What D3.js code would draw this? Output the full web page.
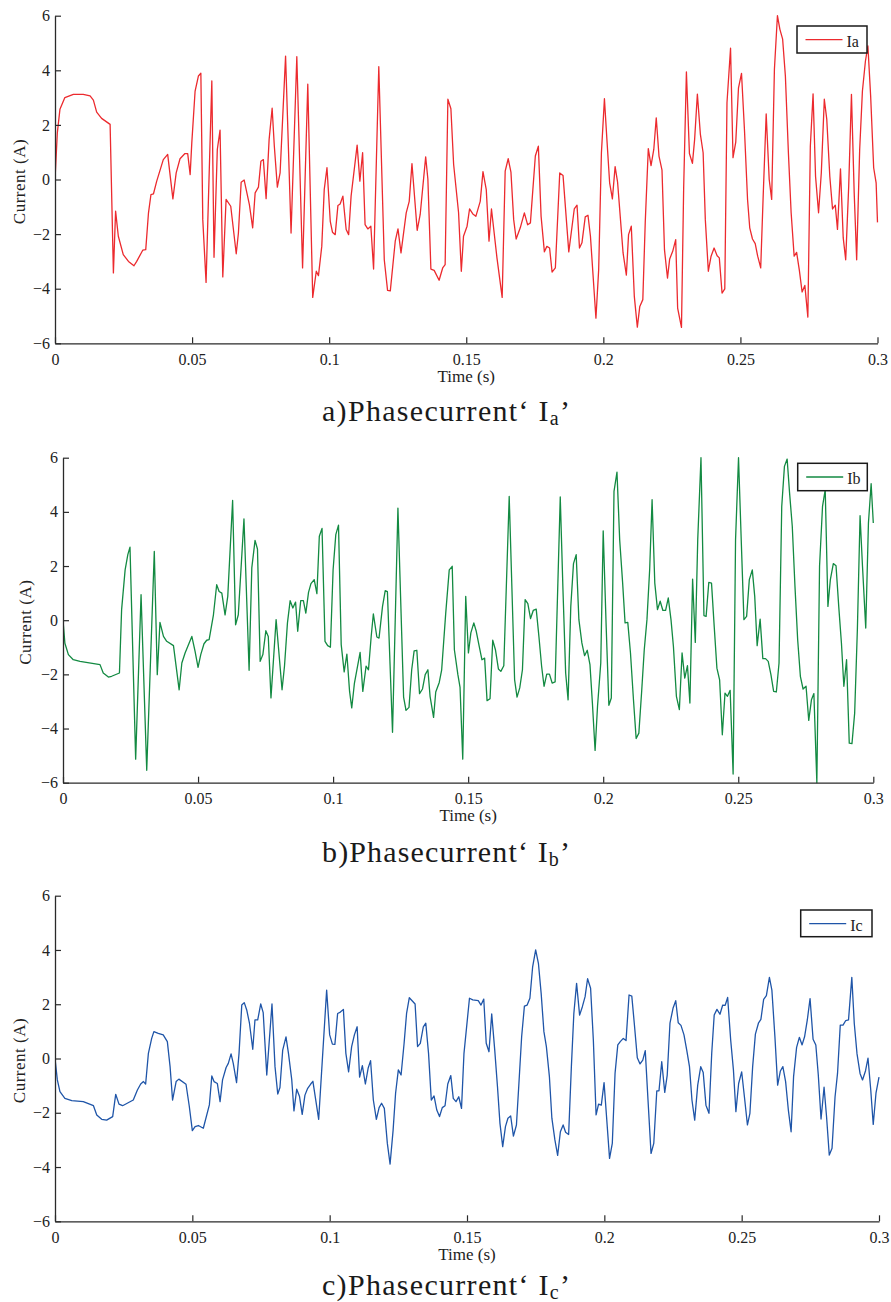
<!DOCTYPE html>
<html><head><meta charset="utf-8">
<script src="https://cdn.jsdelivr.net/npm/d3@7"></script>
<style>
body{margin:0;background:#fff;}
svg{display:block;}
</style></head><body>
<svg id="chart" width="891" height="1302"></svg>
<script>
const timeTicks = [0,0.05,0.1,0.15,0.2,0.25,0.3];
const timeTickLabels = ["0","0.05","0.1","0.15","0.2","0.25","0.3"];
const currentTicks = [-6,-4,-2,0,2,4,6];
const seriesNames = ["Ia","Ib","Ic"];
const titleLetters = ["a","b","c"];

const seriesIa = [[0,0],[0.00085,1.71],[0.0018,2.57],[0.0036,3.0],[0.0067,3.12],[0.0103,3.12],[0.0128,3.06],[0.0140,2.91],[0.0152,2.47],[0.0170,2.24],[0.0201,2.02],[0.0213,-3.42],[0.0221,-1.16],[0.0231,-2.08],[0.0249,-2.75],[0.0268,-3.0],[0.0288,-3.16],[0.0298,-3.0],[0.0320,-2.59],[0.0331,-2.57],[0.0341,-1.22],[0.0350,-0.55],[0.0359,-0.53],[0.0371,-0.06],[0.0395,0.73],[0.0411,0.92],[0.0430,-0.71],[0.0442,0.24],[0.0456,0.76],[0.0474,0.95],[0.0484,0.95],[0.0493,0.18],[0.0499,1.35],[0.0511,3.24],[0.0523,3.79],[0.0532,3.89],[0.0539,-1.47],[0.0551,-3.77],[0.0572,3.61],[0.0580,-2.85],[0.0592,1.1],[0.0602,1.81],[0.0612,-3.57],[0.0624,-0.73],[0.0641,-0.98],[0.0661,-2.72],[0.0669,-1.96],[0.0679,-0.1],[0.0690,-0.02],[0.0709,-0.92],[0.0721,-1.77],[0.0730,-0.49],[0.0742,-0.28],[0.0751,0.67],[0.0760,0.73],[0.0770,-0.7],[0.0781,1.47],[0.0792,2.61],[0.0800,1.22],[0.0811,-0.28],[0.0821,0.24],[0.0841,4.52],[0.0861,-1.96],[0.0882,4.5],[0.0903,-3.24],[0.0922,3.49],[0.0940,-4.32],[0.0953,-3.36],[0.0961,-3.52],[0.0973,-2.45],[0.0982,-0.37],[0.0992,0.43],[0.1004,-1.53],[0.1012,-1.93],[0.1022,-2.02],[0.1032,-0.95],[0.1040,-0.9],[0.1050,-0.61],[0.1062,-1.83],[0.1071,-2.02],[0.1080,-0.61],[0.1102,1.26],[0.1112,-0.06],[0.1122,0.98],[0.1131,-1.65],[0.1141,-1.81],[0.1152,-1.71],[0.1162,-3.28],[0.1181,4.13],[0.1201,-2.94],[0.1213,-4.06],[0.1223,-4.08],[0.1241,-2.26],[0.1251,-1.81],[0.1262,-2.69],[0.1281,-1.22],[0.1292,-0.8],[0.1302,0.58],[0.1321,-1.86],[0.1332,-1.28],[0.1352,0.83],[0.1360,0.02],[0.1371,-3.28],[0.1383,-3.33],[0.1401,-3.69],[0.1414,-3.24],[0.1423,-3.12],[0.1433,2.94],[0.1444,2.59],[0.1454,0.55],[0.1472,-1.22],[0.1482,-3.36],[0.1490,-2.08],[0.1503,-1.71],[0.1512,-1.08],[0.1524,-1.26],[0.1535,-1.35],[0.1551,-0.8],[0.1561,0.29],[0.1573,-0.37],[0.1583,-2.26],[0.1592,-1.08],[0.1612,-2.87],[0.1631,-4.32],[0.1642,0.31],[0.1653,0.76],[0.1663,0.27],[0.1673,-1.47],[0.1682,-2.18],[0.1697,-1.77],[0.1712,-1.22],[0.1724,-1.66],[0.1734,-1.59],[0.1752,0.86],[0.1763,1.22],[0.1773,-1.35],[0.1785,-2.65],[0.1794,-2.45],[0.1804,-2.51],[0.1813,-3.39],[0.1825,-3.24],[0.1841,0.24],[0.1853,0.15],[0.1874,-2.65],[0.1894,-1.08],[0.1904,-0.94],[0.1913,-2.51],[0.1922,-2.32],[0.1934,-1.37],[0.1944,-1.31],[0.1953,-2.08],[0.1973,-5.08],[0.1983,-3.3],[0.1993,0.98],[0.2004,2.96],[0.2013,1.47],[0.2023,-0.12],[0.2033,-0.71],[0.2043,0.47],[0.2052,-0.1],[0.2072,-2.69],[0.2084,-3.5],[0.2092,-2.02],[0.2102,-1.71],[0.2113,-4.28],[0.2124,-5.41],[0.2133,-4.65],[0.2144,-4.4],[0.2153,-1.53],[0.2164,1.13],[0.2174,0.51],[0.2184,1.1],[0.2193,2.26],[0.2203,0.86],[0.2214,0.34],[0.2223,-2.57],[0.2234,-3.61],[0.2242,-2.91],[0.2253,-2.63],[0.2264,-2.2],[0.2271,-4.71],[0.2285,-5.42],[0.2293,-0.31],[0.2303,3.94],[0.2314,0.95],[0.2325,0.59],[0.2333,1.47],[0.2343,3.13],[0.2354,1.65],[0.2364,0.98],[0.2372,-1.47],[0.2383,-3.36],[0.2393,-2.81],[0.2404,-2.51],[0.2415,-2.79],[0.2423,-2.87],[0.2433,-4.16],[0.2443,-4.01],[0.2451,2.81],[0.2464,4.81],[0.2473,0.8],[0.2483,1.37],[0.2493,3.36],[0.2504,3.89],[0.2515,1.77],[0.2526,-0.73],[0.2534,-1.77],[0.2544,-2.18],[0.2554,-2.35],[0.2563,-2.81],[0.2574,-3.24],[0.2583,-0.61],[0.2594,2.4],[0.2605,0],[0.2614,-0.73],[0.2624,4.04],[0.2635,6.0],[0.2644,5.5],[0.2654,5.14],[0.2664,3.79],[0.2675,0.98],[0.2685,-1.22],[0.2696,-2.81],[0.2705,-2.67],[0.2715,-3.33],[0.2725,-4.12],[0.2735,-3.88],[0.2746,-5.04],[0.2755,1.22],[0.2765,3.14],[0.2774,0.12],[0.2785,-1.22],[0.2795,0.24],[0.2806,2.94],[0.2815,2.2],[0.2826,0.12],[0.2836,-1.08],[0.2846,-0.94],[0.2854,-1.83],[0.2865,0.39],[0.2875,-2.14],[0.2884,-2.94],[0.2895,-0.24],[0.2905,3.12],[0.2915,-0.49],[0.2924,-2.94],[0.2935,1.1],[0.2945,3.24],[0.2956,4.34],[0.2965,4.89],[0.2975,3.06],[0.2986,0.43],[0.2995,-0.12],[0.3,-1.57]];

const seriesIb = [[0,0],[0.0007,-0.85],[0.002,-1.27],[0.0038,-1.46],[0.0063,-1.52],[0.0137,-1.64],[0.0149,-1.95],[0.0168,-2.1],[0.0180,-2.07],[0.0209,-1.95],[0.0217,0.39],[0.0230,1.86],[0.0240,2.42],[0.0248,2.7],[0.0269,-5.13],[0.0289,0.94],[0.0310,-5.54],[0.0338,2.54],[0.0349,-2.01],[0.0359,-0.08],[0.0372,-0.6],[0.0384,-0.78],[0.0409,-0.94],[0.0430,-2.57],[0.0440,-1.58],[0.0452,-1.21],[0.0477,-0.6],[0.0489,-1.15],[0.0500,-1.74],[0.0510,-1.27],[0.0522,-0.87],[0.0532,-0.74],[0.0541,-0.72],[0.0557,0.2],[0.0569,1.31],[0.0578,1.06],[0.0588,1.0],[0.0600,0.2],[0.0610,0.88],[0.0628,4.42],[0.0639,-0.17],[0.0649,0.2],[0.0670,3.74],[0.0689,-1.85],[0.0699,1.93],[0.0711,2.95],[0.0720,2.63],[0.0730,-1.52],[0.0740,-1.27],[0.0751,-0.39],[0.0760,-0.6],[0.0770,-2.87],[0.0789,0.02],[0.0811,-2.57],[0.0820,-1.7],[0.0831,-0.1],[0.0841,0.72],[0.0851,0.45],[0.0861,0.67],[0.0869,-0.41],[0.0880,0.72],[0.0890,0.72],[0.0899,0.26],[0.0909,1.03],[0.0918,1.35],[0.0930,1.5],[0.0940,0.98],[0.0949,3.1],[0.0959,3.39],[0.0970,-0.78],[0.0980,-0.94],[0.0990,-1.0],[0.1000,1.86],[0.1010,3.16],[0.1020,3.51],[0.1030,-0.9],[0.1041,-1.91],[0.1051,-1.25],[0.1061,-2.63],[0.1069,-3.24],[0.1079,-2.32],[0.1100,-1.19],[0.1110,-2.63],[0.1122,-1.7],[0.1131,-1.83],[0.1141,-0.6],[0.1149,0.23],[0.1162,-0.62],[0.1170,-0.66],[0.1183,0.51],[0.1193,1.09],[0.1201,1.06],[0.1220,-4.14],[0.1240,4.14],[0.1261,-2.84],[0.1270,-3.33],[0.1281,-3.22],[0.1291,-1.83],[0.1300,-1.13],[0.1310,-1.11],[0.1320,-2.71],[0.1331,-2.54],[0.1341,-2.01],[0.1351,-1.83],[0.1359,-2.81],[0.1372,-3.59],[0.1380,-2.65],[0.1393,-2.3],[0.1402,-1.83],[0.1417,0.26],[0.1430,1.86],[0.1441,1.99],[0.1449,-1.09],[0.1462,-2.01],[0.1470,-2.48],[0.1480,-5.13],[0.1491,0.88],[0.1501,-1.21],[0.1510,-0.47],[0.1521,-0.1],[0.1530,-0.41],[0.1541,-0.97],[0.1551,-1.46],[0.1561,-1.4],[0.1570,-2.97],[0.1581,-2.9],[0.1591,-0.74],[0.1601,-1.09],[0.1612,-1.8],[0.1621,-1.89],[0.1632,-1.68],[0.1652,4.57],[0.1672,-2.2],[0.1681,-2.84],[0.1691,-2.5],[0.1701,-1.83],[0.1711,0.76],[0.1721,0.61],[0.1731,0.06],[0.1741,0.36],[0.1752,0.41],[0.1762,-0.6],[0.1772,-1.7],[0.1781,-2.44],[0.1791,-1.99],[0.1801,-1.99],[0.1811,-2.32],[0.1822,-2.28],[0.1841,4.55],[0.1851,1.13],[0.1861,-1.95],[0.1870,-2.94],[0.1880,0.51],[0.1890,2.09],[0.1900,2.42],[0.1910,0.02],[0.1921,-0.84],[0.1931,-1.31],[0.1941,-1.11],[0.1951,-1.64],[0.1960,-3.06],[0.1970,-4.81],[0.1979,-3.18],[0.1991,-1.58],[0.2000,3.3],[0.2011,-0.23],[0.2021,-3.14],[0.2030,-2.87],[0.2040,4.76],[0.2051,5.47],[0.2061,2.97],[0.2072,1.37],[0.2081,-0.1],[0.2091,-0.08],[0.2101,-1.21],[0.2112,-2.93],[0.2122,-4.37],[0.2132,-4.17],[0.2142,-2.69],[0.2152,-1.09],[0.2162,0.02],[0.2172,1.86],[0.2181,4.45],[0.2191,1.37],[0.2201,0.39],[0.2211,0.7],[0.2221,0.36],[0.2231,0.36],[0.2241,0.82],[0.2251,0.02],[0.2260,-0.97],[0.2271,-2.81],[0.2282,-3.3],[0.2292,-1.21],[0.2302,-2.14],[0.2312,-1.68],[0.2321,-3.06],[0.2331,1.52],[0.2341,-0.82],[0.2350,2.97],[0.2362,6.0],[0.2373,0.17],[0.2381,0.14],[0.2391,1.4],[0.2401,1.37],[0.2411,-0.23],[0.2421,-1.77],[0.2431,-2.2],[0.2441,-4.23],[0.2451,-2.69],[0.2460,-2.81],[0.2470,-2.59],[0.2481,-5.68],[0.2490,2.97],[0.2501,6.0],[0.2511,2.97],[0.2521,0.02],[0.2531,0.14],[0.2541,1.5],[0.2552,1.86],[0.2561,0.88],[0.2570,-0.94],[0.2581,0.04],[0.2591,-1.42],[0.2601,-1.42],[0.2611,-1.52],[0.2621,-2.01],[0.2631,-2.63],[0.2641,-2.65],[0.2651,-1.58],[0.2661,4.2],[0.2671,5.68],[0.2681,5.95],[0.2690,4.7],[0.2700,3.47],[0.2710,1.25],[0.2720,-0.72],[0.2730,-2.07],[0.2740,-2.54],[0.2751,-2.44],[0.2761,-3.7],[0.2771,-2.94],[0.2780,-2.71],[0.2791,-6.0],[0.2801,1.99],[0.2812,4.2],[0.2822,4.82],[0.2832,0.51],[0.2841,1.5],[0.2852,2.09],[0.2862,2.01],[0.2872,0.51],[0.2882,-0.84],[0.2891,-2.44],[0.2901,-1.46],[0.2911,-4.54],[0.2921,-4.56],[0.2931,-3.43],[0.2941,-0.35],[0.2951,3.86],[0.2960,1.99],[0.2972,-0.29],[0.2982,3.59],[0.2992,5.04],[0.3,3.59]];

const seriesIc = [[0,0],[0.00085,-0.79],[0.0018,-1.22],[0.0036,-1.47],[0.0061,-1.55],[0.0103,-1.59],[0.0140,-1.74],[0.0152,-2.08],[0.0170,-2.24],[0.0188,-2.27],[0.0210,-2.14],[0.0221,-1.32],[0.0233,-1.68],[0.0246,-1.74],[0.0285,-1.53],[0.0300,-1.16],[0.0312,-0.94],[0.0322,-0.85],[0.0330,-0.94],[0.0340,0.19],[0.0352,0.74],[0.0360,0.99],[0.0376,0.93],[0.0394,0.87],[0.0409,0.62],[0.0419,-0.3],[0.0428,-1.53],[0.0441,-0.85],[0.0451,-0.76],[0.0477,-0.95],[0.0489,-1.77],[0.0500,-2.66],[0.0510,-2.51],[0.0522,-2.47],[0.0540,-2.57],[0.0562,-1.71],[0.0571,-0.64],[0.0579,-0.85],[0.0591,-0.92],[0.0601,-1.59],[0.0610,-0.79],[0.0623,-0.33],[0.0631,-0.18],[0.0641,0.17],[0.0649,-0.18],[0.0661,-0.89],[0.0670,0.19],[0.0680,1.97],[0.0689,2.06],[0.0698,1.79],[0.0708,1.3],[0.0720,0.34],[0.0728,1.42],[0.0738,1.42],[0.0749,2.01],[0.0758,1.69],[0.0771,-0.61],[0.0790,2.01],[0.0801,-0.3],[0.0811,-1.31],[0.0819,-1.07],[0.0829,0.31],[0.0841,0.8],[0.0850,0.19],[0.0862,-0.79],[0.0870,-1.93],[0.0880,-1.13],[0.0890,-1.39],[0.0900,-2.06],[0.0910,-1.35],[0.0920,-1.1],[0.0931,-0.94],[0.0939,-0.84],[0.0960,-2.24],[0.0989,2.52],[0.1000,0.87],[0.1010,0.53],[0.1019,0.52],[0.1029,1.66],[0.1039,1.71],[0.1050,1.81],[0.1059,0.19],[0.1069,-0.49],[0.1080,0.44],[0.1090,0.87],[0.1100,1.17],[0.1109,-0.69],[0.1119,-0.26],[0.1130,-0.94],[0.1140,-0.36],[0.1149,-0.08],[0.1159,-1.53],[0.1170,-2.24],[0.1180,-1.81],[0.1189,-1.65],[0.1199,-1.84],[0.1210,-3.13],[0.1220,-3.89],[0.1231,-2.64],[0.1240,-1.28],[0.1250,-0.42],[0.1260,-0.61],[0.1271,0.56],[0.1280,1.66],[0.1290,2.24],[0.1301,2.12],[0.1311,2.01],[0.1320,0.44],[0.1330,0.56],[0.1341,1.17],[0.1350,1.3],[0.1360,0.19],[0.1370,-1.53],[0.1380,-1.38],[0.1390,-1.9],[0.1400,-2.14],[0.1410,-1.81],[0.1420,-1.74],[0.1430,-0.94],[0.1441,-0.63],[0.1450,-1.47],[0.1460,-1.59],[0.1470,-1.41],[0.1480,-1.84],[0.1489,0.19],[0.1509,2.22],[0.1521,2.16],[0.1541,2.13],[0.1551,1.97],[0.1561,2.19],[0.1570,0.56],[0.1580,0.25],[0.1590,1.64],[0.1601,0.31],[0.1611,-1.04],[0.1620,-2.39],[0.1630,-3.25],[0.1640,-2.51],[0.1649,-2.2],[0.1659,-2.12],[0.1669,-2.86],[0.1680,-2.45],[0.1689,-0.92],[0.1699,0.81],[0.1709,1.93],[0.1719,1.97],[0.1729,2.22],[0.1739,3.38],[0.1750,4.0],[0.1760,3.51],[0.1770,2.4],[0.1780,0.99],[0.1789,0.44],[0.1800,-0.67],[0.1809,-2.2],[0.1820,-3.0],[0.1830,-3.57],[0.1840,-2.7],[0.1850,-2.45],[0.1859,-2.72],[0.1870,-2.8],[0.1880,-0.3],[0.1889,1.66],[0.1899,2.77],[0.1910,1.6],[0.1920,1.91],[0.1930,2.28],[0.1939,2.94],[0.1950,2.59],[0.1960,0.68],[0.1970,-2.08],[0.1979,-1.68],[0.1989,-1.72],[0.1999,-0.89],[0.2008,-2.14],[0.2019,-3.68],[0.2029,-3.13],[0.2039,-0.55],[0.2049,0.5],[0.2058,0.62],[0.2069,0.74],[0.2079,0.66],[0.2090,2.34],[0.2100,2.3],[0.2109,1.3],[0.2120,0.03],[0.2130,-0.2],[0.2140,-0.06],[0.2149,0.29],[0.2159,-1.53],[0.2170,-3.5],[0.2180,-3.13],[0.2191,-1.19],[0.2199,-1.19],[0.2209,-0.12],[0.2220,-1.25],[0.2229,-0.61],[0.2239,1.3],[0.2250,1.85],[0.2260,2.13],[0.2269,1.32],[0.2279,1.22],[0.2290,0.87],[0.2300,0.31],[0.2310,-0.3],[0.2319,-1.53],[0.2329,-2.27],[0.2340,-0.98],[0.2351,-0.3],[0.2360,-0.52],[0.2370,-1.72],[0.2381,-2.02],[0.2391,0.19],[0.2400,1.6],[0.2410,1.81],[0.2421,1.63],[0.2431,1.97],[0.2440,1.96],[0.2449,2.25],[0.2460,0.68],[0.2470,-0.42],[0.2479,-1.96],[0.2489,-0.92],[0.2500,-0.49],[0.2510,-1.41],[0.2521,-2.45],[0.2530,-2.02],[0.2540,-0.3],[0.2550,0.9],[0.2561,1.3],[0.2570,1.44],[0.2580,2.18],[0.2590,2.32],[0.2601,2.99],[0.2610,2.52],[0.2621,0.81],[0.2631,-0.98],[0.2641,-0.46],[0.2650,-0.3],[0.2660,-0.85],[0.2670,-1.9],[0.2680,-2.7],[0.2689,-0.67],[0.2700,0.41],[0.2710,0.78],[0.2720,0.5],[0.2729,0.8],[0.2739,1.42],[0.2749,2.21],[0.2760,0.71],[0.2770,0.5],[0.2779,-0.61],[0.2789,-2.23],[0.2800,-1.06],[0.2809,-2.14],[0.2819,-3.56],[0.2829,-3.31],[0.2840,-1.41],[0.2849,-0.55],[0.2859,1.23],[0.2869,1.23],[0.2879,1.4],[0.2889,1.42],[0.2901,2.99],[0.2910,1.29],[0.2920,0.17],[0.2931,-0.55],[0.2940,-0.79],[0.2951,-0.45],[0.2960,0.01],[0.2970,-1.16],[0.2979,-2.43],[0.2989,-1.28],[0.3,-0.69]];

const seriesData = [seriesIa, seriesIb, seriesIc];
const seriesColors = ["#ec2a2e", "#138a42", "#1f55a8"];

const layout = [
  {x0:55, x1:877.5, y0:15.7, y1:343.3, lx:797, ly:26, lw:70, lh:27, yl:25, ty:421},
  {x0:63, x1:873.3, y0:457.7, y1:782.7, lx:797.7, ly:463.3, lw:69.6, lh:27.4, yl:31, ty:862},
  {x0:55, x1:879, y0:895.7, y1:1221.3, lx:800.7, ly:910, lw:71.3, lh:26.7, yl:25, ty:1295}
];

const svg = d3.select("#chart");
svg.append("rect").attr("width",891).attr("height",1302).attr("fill","#fff");
const FONT = "'Liberation Serif', 'Tinos', 'Times New Roman', 'DejaVu Serif', 'Noto Serif', serif";
const axisColor = "#2a2a2a";

layout.forEach((p, i) => {
  const x = d3.scaleLinear().domain([0, 0.3]).range([p.x0, p.x1]);
  const y = d3.scaleLinear().domain([-6, 6]).range([p.y1, p.y0]);
  const clipId = "clip" + i;
  svg.append("clipPath").attr("id", clipId).append("rect")
    .attr("x", p.x0).attr("y", p.y0 - 1).attr("width", p.x1 - p.x0 + 2).attr("height", p.y1 - p.y0 + 2);

  svg.append("path").datum(seriesData[i])
    .attr("clip-path", `url(#${clipId})`)
    .attr("fill", "none").attr("stroke", seriesColors[i]).attr("stroke-width", 1.3)
    .attr("stroke-linejoin", "round")
    .attr("d", d3.line().x(d => x(d[0])).y(d => y(d[1])));

  const xAxis = d3.axisBottom(x).tickValues(timeTicks)
    .tickFormat((d, j) => timeTickLabels[j]).tickSizeInner(-6).tickSizeOuter(0).tickPadding(10);
  const gx = svg.append("g").attr("transform", `translate(0,${p.y1})`).call(xAxis);
  const yAxis = d3.axisLeft(y).tickValues(currentTicks)
    .tickFormat(d => d < 0 ? "\u2212" + Math.abs(d) : String(d)).tickSizeInner(-6).tickSizeOuter(0).tickPadding(5);
  const gy = svg.append("g").attr("transform", `translate(${p.x0},0)`).call(yAxis);
  [gx, gy].forEach(g => {
    g.attr("font-family", null).attr("font-size", null);
    g.selectAll("path.domain").attr("stroke", axisColor).attr("stroke-width", 1.3);
    g.selectAll(".tick line").attr("stroke", axisColor).attr("stroke-width", 1.2);
    g.selectAll(".tick text").attr("fill", "#222").style("font-family", FONT).style("font-size", "16px");
  });

  svg.append("text").attr("x", (p.x0 + p.x1) / 2).attr("y", p.y1 + 38.5)
    .attr("text-anchor", "middle").attr("fill", "#222")
    .style("font-family", FONT).style("font-size", "17px").text("Time (s)");
  svg.append("text").attr("transform", `translate(${p.yl},${(p.y0 + p.y1) / 2 + 2}) rotate(-90)`)
    .attr("text-anchor", "middle").attr("letter-spacing", 0.5).attr("fill", "#222")
    .style("font-family", FONT).style("font-size", "17px").text("Current (A)");

  // legend
  const lg = svg.append("g");
  lg.append("rect").attr("x", p.lx).attr("y", p.ly).attr("width", p.lw).attr("height", p.lh)
    .attr("fill", "#fff").attr("stroke", "#1a1a1a").attr("stroke-width", 1.5);
  lg.append("line").attr("x1", p.lx + 8.5).attr("x2", p.lx + 45.5)
    .attr("y1", p.ly + 13.7).attr("y2", p.ly + 13.7)
    .attr("stroke", seriesColors[i]).attr("stroke-width", 1.3);
  lg.append("text").attr("x", p.lx + 49.5).attr("y", p.ly + 20.5)
    .attr("fill", "#222").style("font-family", FONT).style("font-size", "16px").text(seriesNames[i]);

  // title
  const t = svg.append("text").attr("x", 322).attr("y", p.ty)
    .attr("fill", "#1a1a1a").style("font-family", FONT).style("font-size", "30px");
  t.append("tspan").text(titleLetters[i] + ")Phasecurrent\u2018 I");
  t.append("tspan").style("font-size", "20px").attr("dy", 4).text(titleLetters[i]);
  t.append("tspan").attr("dy", -4).text("\u2019");
  const w = t.node().getComputedTextLength();
  const n = (titleLetters[i] + ")Phasecurrent\u2018 I" + titleLetters[i] + "\u2019").length;
  t.attr("letter-spacing", Math.max(0, (248 - w) / (n - 1)));
});
</script>
</body></html>
